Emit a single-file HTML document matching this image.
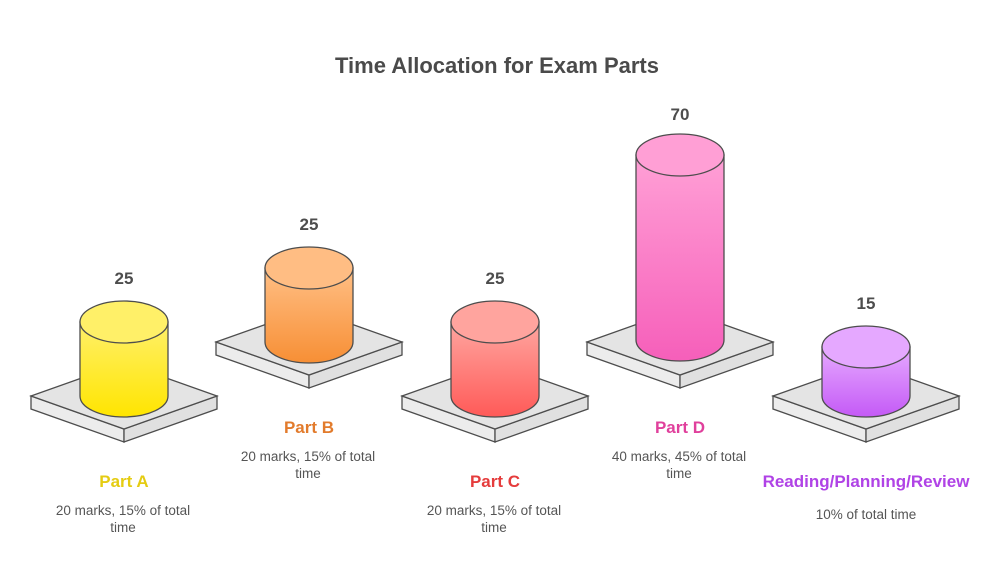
<!DOCTYPE html>
<html><head><meta charset="utf-8"><style>
body{margin:0;background:#fff;width:995px;height:580px;overflow:hidden;font-family:"Liberation Sans",sans-serif}
</style></head><body>
<svg width="995" height="580" viewBox="0 0 995 580" xmlns="http://www.w3.org/2000/svg" font-family="Liberation Sans, sans-serif">
<defs>
<linearGradient id="gA" x1="0" y1="0" x2="0" y2="1"><stop offset="0" stop-color="#fff06a"/><stop offset="1" stop-color="#ffe500"/></linearGradient>
<linearGradient id="gB" x1="0" y1="0" x2="0" y2="1"><stop offset="0" stop-color="#ffbf85"/><stop offset="1" stop-color="#f78f35"/></linearGradient>
<linearGradient id="gC" x1="0" y1="0" x2="0" y2="1"><stop offset="0" stop-color="#ffa6a0"/><stop offset="1" stop-color="#ff5a58"/></linearGradient>
<linearGradient id="gD" x1="0" y1="0" x2="0" y2="1"><stop offset="0" stop-color="#ffa0d6"/><stop offset="1" stop-color="#f65fba"/></linearGradient>
<linearGradient id="gE" x1="0" y1="0" x2="0" y2="1"><stop offset="0" stop-color="#e6aaff"/><stop offset="1" stop-color="#c45af6"/></linearGradient>
</defs>
<text x="497" y="73" text-anchor="middle" font-size="22" font-weight="bold" fill="#4a4a4a">Time Allocation for Exam Parts</text>
<g stroke="#4d4d4d" stroke-width="1.3">
<polygon points="31,396 124,429 124,442 31,409" fill="#ececec"/>
<polygon points="217,396 124,429 124,442 217,409" fill="#e0e0e0"/>
<polygon points="31,396 124,363 217,396 124,429" fill="#e4e4e4"/>
<path d="M80,322 L80,396 A44,21 0 0 0 168,396 L168,322 Z" fill="url(#gA)"/>
<ellipse cx="124" cy="322" rx="44" ry="21" fill="#fff068"/>

<polygon points="216,342 309,375 309,388 216,355" fill="#ececec"/>
<polygon points="402,342 309,375 309,388 402,355" fill="#e0e0e0"/>
<polygon points="216,342 309,309 402,342 309,375" fill="#e4e4e4"/>
<path d="M265,268 L265,342 A44,21 0 0 0 353,342 L353,268 Z" fill="url(#gB)"/>
<ellipse cx="309" cy="268" rx="44" ry="21" fill="#ffbd83"/>

<polygon points="402,396 495,429 495,442 402,409" fill="#ececec"/>
<polygon points="588,396 495,429 495,442 588,409" fill="#e0e0e0"/>
<polygon points="402,396 495,363 588,396 495,429" fill="#e4e4e4"/>
<path d="M451,322 L451,396 A44,21 0 0 0 539,396 L539,322 Z" fill="url(#gC)"/>
<ellipse cx="495" cy="322" rx="44" ry="21" fill="#ffa49e"/>

<polygon points="587,342 680,375 680,388 587,355" fill="#ececec"/>
<polygon points="773,342 680,375 680,388 773,355" fill="#e0e0e0"/>
<polygon points="587,342 680,309 773,342 680,375" fill="#e4e4e4"/>
<path d="M636,155 L636,340 A44,21 0 0 0 724,340 L724,155 Z" fill="url(#gD)"/>
<ellipse cx="680" cy="155" rx="44" ry="21" fill="#ff9fd5"/>

<polygon points="773,396 866,429 866,442 773,409" fill="#ececec"/>
<polygon points="959,396 866,429 866,442 959,409" fill="#e0e0e0"/>
<polygon points="773,396 866,363 959,396 866,429" fill="#e4e4e4"/>
<path d="M822,347 L822,396 A44,21 0 0 0 910,396 L910,347 Z" fill="url(#gE)"/>
<ellipse cx="866" cy="347" rx="44" ry="21" fill="#e5a8ff"/>
</g>
<g font-size="17" font-weight="bold" fill="#4d4d4d" text-anchor="middle">
<text x="124" y="284">25</text><text x="309" y="230">25</text><text x="495" y="284">25</text><text x="680" y="120">70</text><text x="866" y="309">15</text>
</g>
<g font-size="17" font-weight="bold" text-anchor="middle">
<text x="124" y="487" fill="#e5cc12">Part A</text>
<text x="309" y="433" fill="#e27b2c">Part B</text>
<text x="495" y="487" fill="#e53c3c">Part C</text>
<text x="680" y="433" fill="#e0409c">Part D</text>
<text x="866" y="487" fill="#b043e6">Reading/Planning/Review</text>
</g>
<g font-size="13.5" fill="#555" text-anchor="middle">
<text x="123" y="515">20 marks, 15% of total</text><text x="123" y="532">time</text>
<text x="308" y="461">20 marks, 15% of total</text><text x="308" y="478">time</text>
<text x="494" y="515">20 marks, 15% of total</text><text x="494" y="532">time</text>
<text x="679" y="461">40 marks, 45% of total</text><text x="679" y="478">time</text>
<text x="866" y="519">10% of total time</text>
</g>
</svg>
</body></html>
